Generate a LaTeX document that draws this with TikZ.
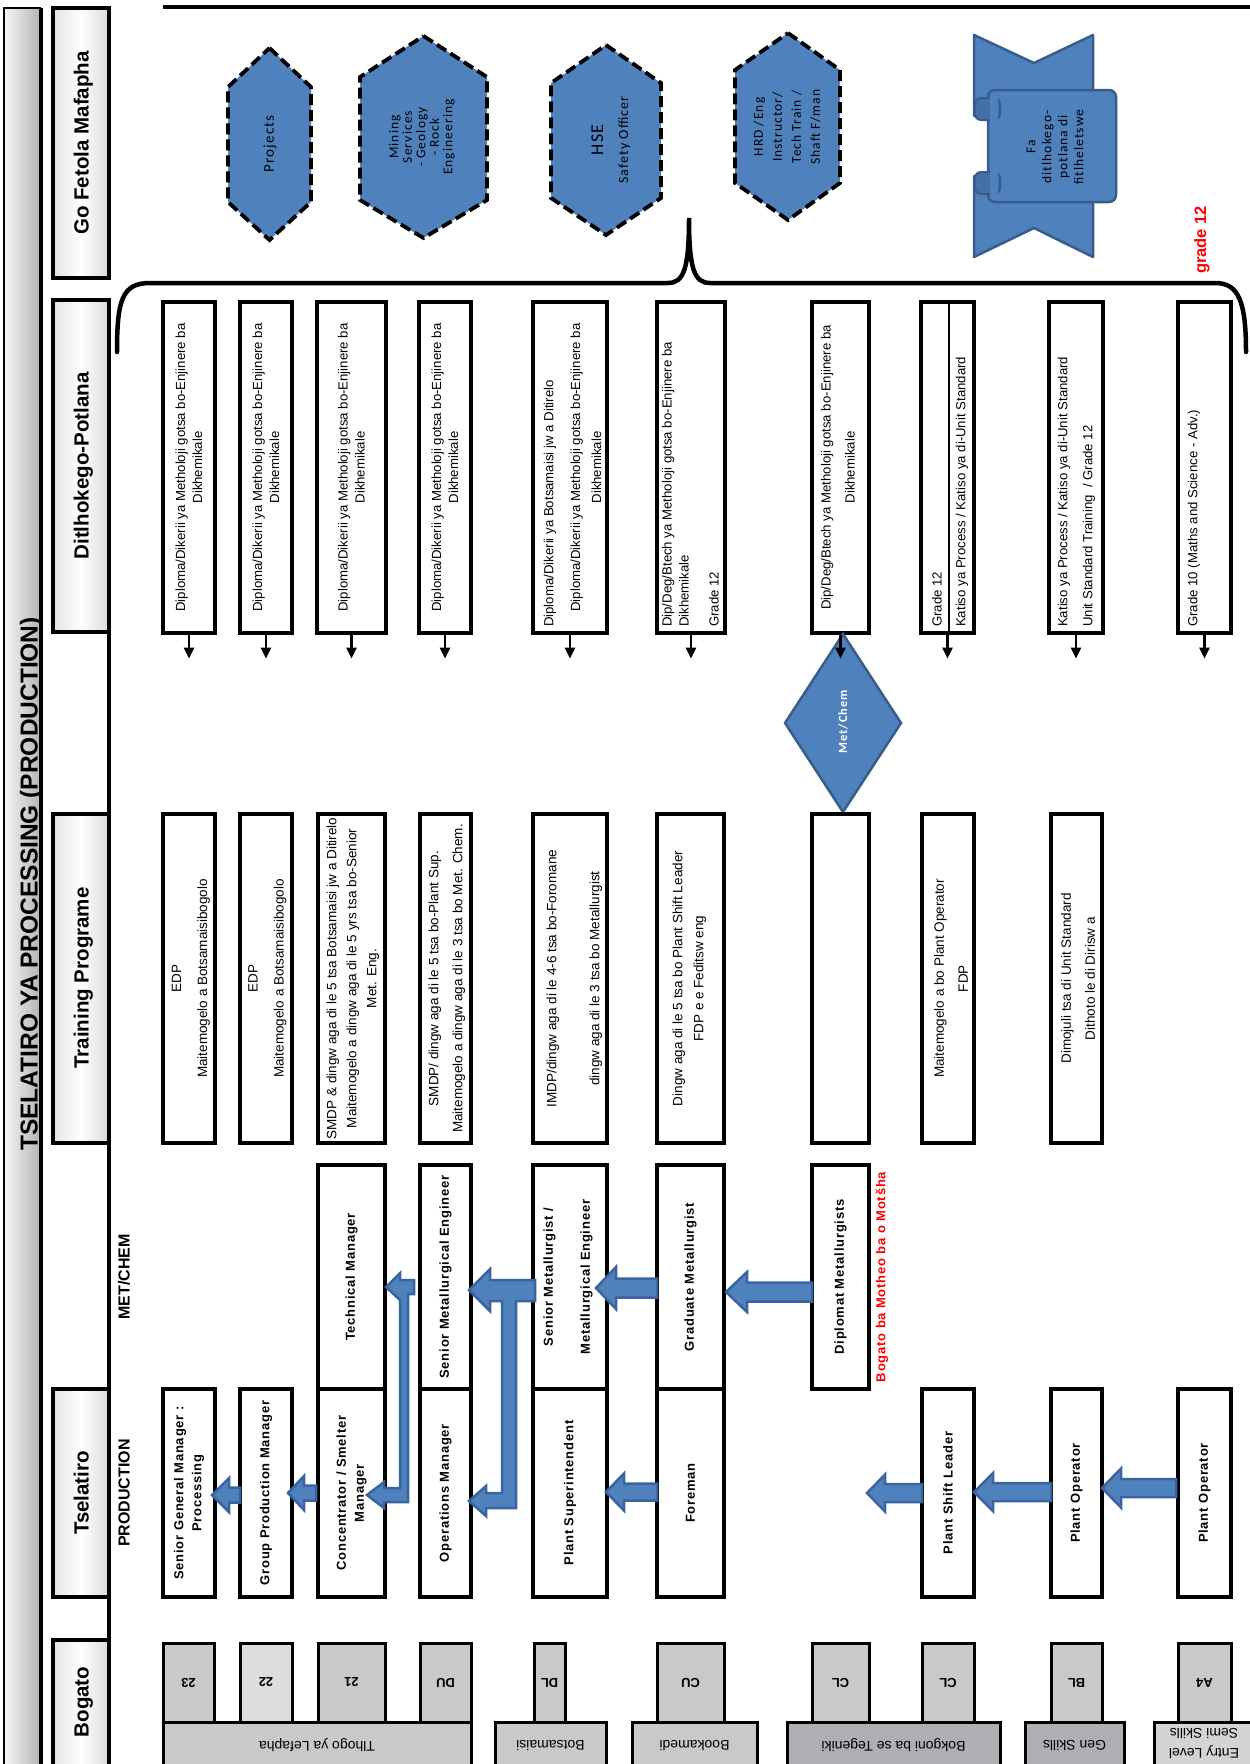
\documentclass[tikz,border=0pt]{standalone}
\usepackage{fontspec}
\setmainfont{Liberation Sans}
\newfontfamily\posf[LetterSpace=6]{Liberation Sans}
\newfontfamily\hexf[LetterSpace=8]{Carlito}
\usetikzlibrary{fit,arrows.meta}
\definecolor{hexblue}{HTML}{4F81BD}
\definecolor{hexline}{HTML}{385D8A}
\definecolor{arrline}{HTML}{3A64A0}
\definecolor{curlblue}{HTML}{4270A8}
\definecolor{gA}{HTML}{C8C9CB}
\definecolor{gB}{HTML}{DCDDDF}
\definecolor{gC}{HTML}{ADAFB2}
\definecolor{gE}{HTML}{D3D4D6}
\definecolor{redt}{HTML}{FF0000}
\tikzset{
 boxs/.style={draw, line width=3.2pt, inner sep=0pt, fill=white},
 hdr/.style={draw, line width=3.5pt, inner sep=0pt, left color=gray!22, right color=gray!30, middle color=white},
 gbox/.style={draw, line width=3pt, inner sep=0pt},
 dtxt/.style={rotate=90, inner sep=0pt, font=\fontsize{13.2}{17}\selectfont},
 ttxt/.style={rotate=90, inner sep=0pt, align=center, font=\fontsize{13.5}{24}\selectfont},
 ptxt/.style={rotate=90, inner sep=0pt, align=center, font=\posf\bfseries\fontsize{13}{18}\selectfont},
 htxt/.style={rotate=90, anchor=base, inner sep=0pt, font=\bfseries\fontsize{20.5}{24}\selectfont},
 gtxt/.style={rotate=180, inner sep=0pt, font=\bfseries\fontsize{13}{15}\selectfont},
 ctxt/.style={rotate=180, inner sep=0pt, align=center, font=\fontsize{14}{20}\selectfont},
 tarr/.style={line width=2.4pt, -{Triangle[length=11pt,width=10pt]}},
 barr/.style={fill=hexblue, draw=arrline, line width=2.5pt, line join=miter},
 hexs/.style={fill=hexblue, draw=black, line width=3.8pt, dash pattern=on 11pt off 5pt, line join=miter},
 hext/.style={rotate=90, inner sep=0pt, align=center, text=black, font=\hexf\fontsize{13.5}{13.5}\selectfont},
}
\newcommand\bx[6][boxs]{\node[#1,fit={(#3,#4) (#5,#6)}] (#2) {};}
% tip x, tail x, y, shaft half, head half, head length
\newcommand\barrow[6]{\path[barr] (#1,#3) -- ({#1+#6},{#3-#5}) -- ({#1+#6},{#3-#4}) -- (#2,{#3-#4}) -- (#2,{#3+#4}) -- ({#1+#6},{#3+#4}) -- ({#1+#6},{#3+#5}) -- cycle;}
\newcommand\dipl{Diploma/Dikerii ya Metholoji gotsa bo-Enjinere ba\\Dikhemikale}
\begin{document}
\begin{tikzpicture}[x=1pt,y=-1pt]
\useasboundingbox (0,0) rectangle (1250,1764);
\clip (0,0) rectangle (1250,1764);

% title bar
\path[left color=gray!6, right color=gray!60] (4,8) rectangle (41,1770);
\draw[line width=2.5pt] (4,1770) -- (4,8) -- (41,8);
\draw[line width=4pt] (41,8) -- (41,1770);
\node[rotate=90, anchor=base, inner sep=0pt, font=\bfseries\fontsize{24.5}{28}\selectfont] (title) at (37.5,884) {TSELATIRO YA PROCESSING (PRODUCTION)};

% top rule and column rule
\draw[line width=3.5pt] (163,7) -- (1250,7);
\draw[line width=3.5pt] (109,300) -- (109,1770);

% headers
\node[hdr, fit={(53,8) (109,278)}] (hGo) {};
\node[htxt] (hGoT) at (88.5,143) {Go Fetola Mafapha};
\node[hdr, fit={(53,300) (109,632)}] (hDit) {};
\node[htxt] (hDitT) at (88.5,466) {Ditlhokego-Potlana};
\node[hdr, fit={(53,814) (109,1143)}] (hTr) {};
\node[htxt] (hTrT) at (88.5,978) {Training Programe};
\node[hdr, fit={(53,1389) (109,1597)}] (hTs) {};
\node[htxt] (hTsT) at (88.5,1493) {Tselatiro};
\node[hdr, fit={(53,1640) (109,1780)}] (hBo) {};
\node[htxt] (hBoT) at (88.5,1702) {Bogato};

% hexagons
\path[hexs] (269.5,48) -- (311,87) -- (311,202) -- (269.5,240) -- (228,202) -- (228,87) -- cycle;
\node[hext, font=\hexf\fontsize{15}{15}\selectfont] (hx1t) at (270,144) {Projects};
\path[hexs] (423.5,36) -- (487,77) -- (487,200) -- (423.5,238) -- (360,200) -- (360,77) -- cycle;
\node[hext] (hx2t) at (422,137) {Mining\\Services\\- Geology\\- Rock\\Engineering};
\path[hexs] (606,45) -- (661,83) -- (661,198) -- (606,235) -- (551,198) -- (551,83) -- cycle;
\node[hext, font=\hexf\fontsize{14}{14}\selectfont] (hx3t) at (611,140) {{\fontsize{18}{18}\selectfont HSE}\\[11pt]Safety Officer};
\path[hexs] (788,33) -- (840,70) -- (840,183) -- (788,220) -- (735,183) -- (735,70) -- cycle;
\node[hext, font=\hexf\fontsize{13.5}{19}\selectfont] (hx4t) at (787,127) {HRD /Eng\\Instructor/\\Tech Train /\\Shaft F/man};

% ribbon
\path[fill=hexblue, draw=hexline, line width=2.5pt, line join=round] (974,35) -- (1034,63) -- (1093,35) -- (1093,257) -- (1034,228) -- (974,257) -- (974,176) -- (1000,176) -- (1000,116) -- (974,116) -- cycle;
\path[fill=hexblue, draw=hexline, line width=2.5pt, rounded corners=7pt] (988,90) rectangle (1116,202);
\path[fill=curlblue, draw=hexline, line width=2pt, rounded corners=6pt] (975,98) rectangle (1000,120);
\path[fill=curlblue, draw=hexline, line width=2pt, rounded corners=6pt] (975,172) rectangle (1000,194);
\path[fill=hexblue] (990,93) rectangle (998,199);
\node[hext, font=\hexf\fontsize{13.5}{16}\selectfont] (ribt) at (1055,147) {Fa\\ditlhokego-\\potlana di\\fitlheletswe};

\node[rotate=90, text=redt, inner sep=0pt, font=\bfseries\fontsize{16.5}{18}\selectfont] (grade) at (1202,240) {grade 12};

% brace
\draw[line width=4.5pt, line cap=round] (117,352) .. controls (117,300) and (122,283) .. (150,283) -- (668,283) .. controls (684,283) and (689,268) .. (689,218) .. controls (689,268) and (694,283) .. (710,283) -- (1215,283) .. controls (1238,283) and (1246,300) .. (1246,352);

% Ditlhokego-Potlana boxes
\bx{d1}{163}{302}{215}{633}
\bx{d2}{240}{302}{292}{633}
\bx{d3}{317}{302}{386}{633}
\bx{d4}{419}{302}{471}{633}
\bx{d5}{533}{302}{607}{633}
\bx{d6}{657}{302}{725}{633}
\bx{d7}{812}{302}{869}{633}
\bx{d8}{921}{302}{974}{633}
\bx{d9}{1049}{302}{1103}{633}
\bx{d10}{1178}{302}{1231}{633}
\draw[line width=2.5pt] (949,302) -- (949,633);

\node[dtxt, align=center] (d1t) at (d1) {\dipl};
\node[dtxt, align=center] (d2t) at (d2) {\dipl};
\node[dtxt, align=center] (d3t) at (d3) {\dipl};
\node[dtxt, align=center] (d4t) at (d4) {\dipl};
\node[dtxt, anchor=west] (d5a) at (550,627) {Diploma/Dikerii ya Botsamaisi jw a Ditirelo};
\node[dtxt, align=center, font=\fontsize{13.2}{21}\selectfont] (d5b) at (586,467.5) {\dipl};
\node[dtxt, anchor=west, align=left] (d6t) at (690.5,627) {Dip/Deg/Btech ya Metholoji gotsa bo-Enjinere ba\\Dikhemikale\\[13pt]Grade 12};
\node[dtxt, align=center, font=\fontsize{13.2}{24}\selectfont] (d7t) at (838,467.5) {Dip/Deg/Btech ya Metholoji gotsa bo-Enjinere ba\\Dikhemikale};
\node[dtxt, anchor=west] (d8a) at (937,627) {Grade 12};
\node[dtxt, anchor=west] (d8b) at (962,627) {Katiso ya Process / Katiso ya di-Unit Standard};
\node[dtxt, anchor=west, align=left, font=\fontsize{13.2}{25}\selectfont] (d9t) at (1076.5,627) {Katiso ya Process / Katiso ya di-Unit Standard\\Unit Standard Training~~/ Grade 12};
\node[dtxt, anchor=west] (d10t) at (1194,627) {Grade 10 (Maths and Science - Adv.)};

% Met/Chem diamond
\path[fill=hexblue, draw=hexline, line width=2.5pt] (843,634) -- (901,723) -- (843,812) -- (785,723) -- cycle;
\node[rotate=90, text=white, inner sep=0pt, font=\hexf\bfseries\fontsize{12.5}{14}\selectfont] (diat) at (843,722) {Met/Chem};

% thin arrows
\foreach \n in {d1,d2,d3,d4,d5,d6,d7,d8,d9,d10} \draw[tarr] (\n.south) -- ++(0,24);

% Training programme boxes
\bx{t1}{163}{814}{215}{1143}
\bx{t2}{240}{814}{292}{1143}
\bx{t3}{318}{814}{385}{1143}
\bx{t4}{420}{814}{471}{1143}
\bx{t5}{533}{814}{607}{1143}
\bx{t6}{657}{814}{724}{1143}
\bx{t7}{812}{814}{869}{1143}
\bx{t8}{922}{814}{974}{1143}
\bx{t9}{1051}{814}{1102}{1143}
\node[ttxt, font=\fontsize{13.5}{26}\selectfont] (t1t) at (191,978.5) {EDP\\Maitemogelo a Botsamaisibogolo};
\node[ttxt, font=\fontsize{13.5}{26}\selectfont] (t2t) at (267.5,978.5) {EDP\\Maitemogelo a Botsamaisibogolo};
\node[ttxt, font=\fontsize{13.5}{20}\selectfont] (t3t) at (353,978.5) {SMDP \& dingw aga di le 5 tsa Botsamaisi jw a Ditirelo\\Maitemogelo a dingw aga di le 5 yrs tsa bo-Senior\\Met. Eng.};
\node[ttxt] (t4t) at (447,978.5) {SMDP/ dingw aga di le 5 tsa bo-Plant Sup.\\Maitemogelo a dingw aga di le 3 tsa bo Met. Chem.};
\node[ttxt, font=\fontsize{13.5}{43}\selectfont] (t5t) at (574.5,978.5) {IMDP/dingw aga di le 4-6 tsa bo-Foromane\\dingw aga di le 3 tsa bo Metallurgist};
\node[ttxt, font=\fontsize{13.5}{21}\selectfont] (t6t) at (689.5,978.5) {Dingw aga di le 5 tsa bo Plant Shift Leader\\FDP e e Feditsw eng};
\node[ttxt] (t8t) at (951,978.5) {Maitemogelo a bo Plant Operator\\FDP};
\node[ttxt] (t9t) at (1078,978.5) {Dimojuli tsa di Unit Standard\\Dithoto le di Dirisw a};

% position boxes
\node[rotate=90, inner sep=0pt, font=\bfseries\fontsize{16}{18}\selectfont] (lmet) at (124,1277) {MET/CHEM};
\node[rotate=90, inner sep=0pt, font=\bfseries\fontsize{16}{18}\selectfont] (lprod) at (124,1493) {PRODUCTION};
\bx{m3}{318}{1165}{385}{1389}
\bx{m4}{420}{1165}{471}{1389}
\bx{m5}{533}{1165}{607}{1389}
\bx{m6}{657}{1165}{724}{1389}
\bx{m7}{812}{1165}{869}{1389}
\bx{p1}{163}{1389}{215}{1597}
\bx{p2}{240}{1389}{292}{1597}
\bx{p3}{318}{1389}{385}{1597}
\bx{p4}{420}{1389}{471}{1597}
\bx{p5}{533}{1389}{607}{1597}
\bx{p6}{657}{1389}{724}{1597}
\bx{p8}{922}{1389}{974}{1597}
\bx{p9}{1051}{1389}{1102}{1597}
\bx{p10}{1178}{1389}{1231}{1597}

% block arrows
\barrow{212}{240}{1495}{7.5}{17}{17}
\barrow{288}{316}{1493}{7.5}{17}{16}
\path[barr] (386,1287) -- (400,1273) -- (400,1280) -- (414,1280) -- (414,1294) -- (408,1294) -- (408,1502) -- (384,1502) -- (384,1508) -- (367,1495) -- (384,1482) -- (384,1488) -- (400,1488) -- (400,1300) -- cycle;
\path[barr] (469,1290) -- (490,1269) -- (490,1280) -- (535,1280) -- (535,1301) -- (516,1301) -- (516,1508) -- (486,1508) -- (486,1516) -- (469,1501) -- (486,1486) -- (486,1493) -- (502,1493) -- (502,1301) -- (490,1301) -- (490,1311) -- cycle;
\barrow{596}{657}{1288}{9.5}{21}{20}
\barrow{606}{657}{1492}{8.5}{18.5}{18}
\barrow{726}{812}{1292}{9.5}{20}{21}
\barrow{867}{922}{1493}{9}{18.5}{18}
\barrow{974}{1051}{1492}{9}{19}{19}
\barrow{1102}{1176}{1488}{9}{19.5}{19}

\node[ptxt] (m3t) at (m3) {Technical Manager};
\node[ptxt] (m4t) at (m4) {Senior Metallurgical Engineer};
\node[ptxt, font=\posf\bfseries\fontsize{13}{37}\selectfont] (m5t) at (568,1277) {Senior Metallurgist /\\Metallurgical Engineer};
\node[ptxt] (m6t) at (m6) {Graduate Metallurgist};
\node[ptxt] (m7t) at (m7) {Diplomat Metallurgists};
\node[ptxt] (p1t) at (189,1493) {Senior General Manager :\\Processing};
\node[ptxt] (p2t) at (p2) {Group Production Manager};
\node[ptxt] (p3t) at (351.5,1493) {Concentrator / Smelter\\Manager};
\node[ptxt] (p4t) at (p4) {Operations Manager};
\node[ptxt] (p5t) at (p5) {Plant Superintendent};
\node[ptxt] (p6t) at (p6) {Foreman};
\node[ptxt] (p8t) at (p8) {Plant Shift Leader};
\node[ptxt] (p9t) at (p9) {Plant Operator};
\node[ptxt] (p10t) at (p10) {Plant Operator};
\node[rotate=90, text=redt, inner sep=0pt, font=\posf\bfseries\fontsize{13}{15}\selectfont] (redA) at (882,1277) {Bogato ba Motheo ba o Motšha};

% grade level boxes
\bx[gbox,fill=gA]{g23}{163}{1643}{214}{1722}
\bx[gbox,fill=gB]{g22}{240}{1643}{292}{1722}
\bx[gbox,fill=gA]{g21}{318}{1643}{385}{1722}
\bx[gbox,fill=gA]{gDU}{420}{1643}{471}{1722}
\bx[gbox,fill=gA]{gDL}{534}{1643}{565}{1722}
\bx[gbox,fill=gA]{gCU}{657}{1643}{724}{1722}
\bx[gbox,fill=gA]{gCLa}{812}{1643}{869}{1722}
\bx[gbox,fill=gA]{gCLb}{922}{1643}{974}{1722}
\bx[gbox,fill=gA]{gBL}{1051}{1643}{1102}{1722}
\bx[gbox,fill=gA]{gA4}{1178}{1643}{1231}{1722}
\node[gtxt] (g23t) at (g23) {23};
\node[gtxt] (g22t) at (g22) {22};
\node[gtxt] (g21t) at (g21) {21};
\node[gtxt] (gDUt) at (gDU) {DU};
\node[gtxt] (gDLt) at (gDL) {DL};
\node[gtxt] (gCUt) at (gCU) {CU};
\node[gtxt] (gCLat) at (gCLa) {CL};
\node[gtxt] (gCLbt) at (gCLb) {CL};
\node[gtxt] (gBLt) at (gBL) {BL};
\node[gtxt] (gA4t) at (gA4) {A4};

% category boxes
\bx[gbox,fill=gA]{c1}{163}{1722}{471}{1772}
\bx[gbox,fill=gA]{c2}{495}{1722}{606}{1772}
\bx[gbox,fill=gA]{c3}{632}{1722}{757}{1772}
\bx[gbox,fill=gC]{c4}{787}{1722}{1000}{1772}
\bx[gbox,fill=gC]{c5}{1025}{1722}{1124}{1772}
\bx[gbox,fill=gE]{c6}{1154}{1722}{1262}{1772}
\node[ctxt] (c1t) at (317,1745) {Tlhogo ya Lefapha};
\node[ctxt] (c2t) at (550.5,1745) {Botsamaisi};
\node[ctxt] (c3t) at (694.5,1745) {Bookamedi};
\node[ctxt] (c4t) at (893.5,1745) {Bokgoni ba se Tegeniki};
\node[ctxt] (c5t) at (1074.5,1745) {Gen Skills};
\node[ctxt] (c6t) at (1204,1743) {Entry Level\\Semi Skills};
\end{tikzpicture}
\end{document}
